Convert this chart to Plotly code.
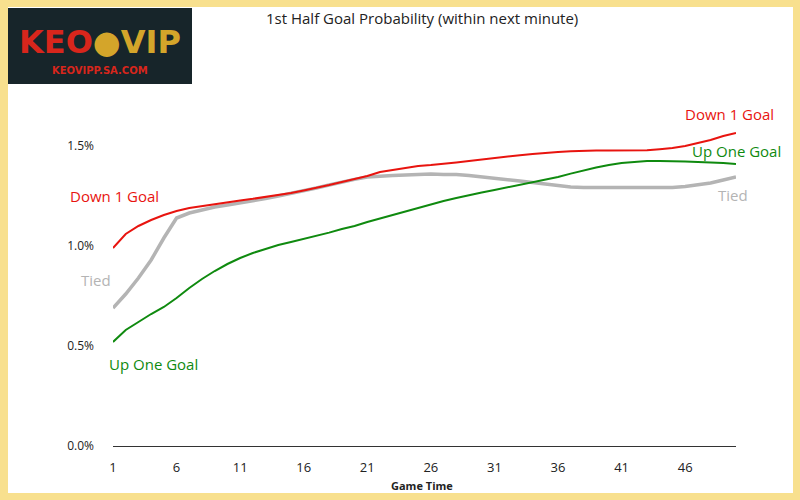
import plotly.graph_objects as go

minutes = list(range(1, 51))
down1 = [0.99,1.06,1.10,1.13,1.155,1.175,1.19,1.20,1.21,1.22,1.228,1.236,1.245,1.255,1.265,1.278,1.29,1.305,1.32,1.335,1.35,1.37,1.38,1.39,1.40,1.405,1.41,1.418,1.425,1.433,1.44,1.447,1.454,1.46,1.466,1.47,1.474,1.477,1.478,1.478,1.478,1.478,1.479,1.484,1.49,1.50,1.515,1.53,1.55,1.565]
tied = [0.69,0.76,0.84,0.93,1.04,1.14,1.165,1.18,1.195,1.205,1.215,1.225,1.237,1.25,1.262,1.275,1.29,1.305,1.32,1.333,1.345,1.35,1.352,1.355,1.358,1.36,1.358,1.358,1.353,1.347,1.34,1.333,1.325,1.318,1.31,1.302,1.295,1.292,1.292,1.292,1.292,1.292,1.292,1.292,1.293,1.298,1.305,1.315,1.33,1.345]
upone = [0.52,0.58,0.62,0.66,0.695,0.74,0.79,0.835,0.875,0.91,0.94,0.965,0.985,1.005,1.02,1.035,1.05,1.067,1.085,1.10,1.12,1.138,1.155,1.172,1.19,1.207,1.225,1.24,1.255,1.268,1.28,1.293,1.305,1.318,1.33,1.345,1.362,1.378,1.392,1.405,1.415,1.42,1.425,1.425,1.425,1.423,1.42,1.418,1.415,1.41]
xticks = [1,6,11,16,21,26,31,36,41,46]
yticks = [0, 0.5, 1.0, 1.5]
ytext = ["0.0%", "0.5%", "1.0%", "1.5%"]

RED, GRAY, GREEN = "#e8140f", "#b4b4b4", "#0f8a0f"
L, R, T, B = 113, 64, 116, 54
PW, PH = 800 - L - R, 500 - T - B
def px(x): return (x - L) / PW
def py(y): return (500 - B - y) / PH

fig = go.Figure()
fig.add_trace(go.Scatter(x=minutes, y=tied, mode="lines", line=dict(color=GRAY, width=3.5)))
fig.add_trace(go.Scatter(x=minutes, y=upone, mode="lines", line=dict(color=GREEN, width=2)))
fig.add_trace(go.Scatter(x=minutes, y=down1, mode="lines", line=dict(color=RED, width=2)))

font = "Open Sans"
def lab(x, y, t, c, anchor="left", size=15, family=font):
    fig.add_annotation(xref="paper", yref="paper", x=px(x), y=py(y), text=t, showarrow=False,
                       xanchor=anchor, yanchor="middle",
                       font=dict(family=family, size=size, color=c))
lab(68, 196, "Down 1 Goal", RED)
lab(79, 280, "Tied", GRAY)
lab(107, 364, "Up One Goal", GREEN)
lab(683, 114, "Down 1 Goal", RED)
lab(690, 151, "Up One Goal", GREEN)
lab(716, 195, "Tied", GRAY)
lab(422, 18, "1st Half Goal Probability (within next minute)", "#222", "center", 15)
lab(422, 485, "<b>Game Time</b>", "#222", "center", 11)

fig.update_layout(
    width=800, height=500, paper_bgcolor="#f8e08e", plot_bgcolor="white",
    margin=dict(l=L, r=R, t=T, b=B, autoexpand=False), showlegend=False,
    xaxis=dict(range=[1, 50], tickvals=xticks, showgrid=False, zeroline=False, automargin=False,
               showline=True, linecolor="#333", linewidth=1, ticks="", ticklabelstandoff=9,
               tickfont=dict(family=font, size=13, color="#222")),
    yaxis=dict(range=[0, 1.65], tickvals=yticks, ticktext=ytext, showgrid=False, zeroline=False,
               automargin=False, tickfont=dict(family=font, size=12, color="#222"), ticklabelstandoff=18),
    shapes=[
        dict(type="rect", xref="paper", yref="paper", x0=px(8), x1=px(793), y0=py(493), y1=py(7),
             fillcolor="white", line=dict(width=0), layer="below"),
        dict(type="rect", xref="paper", yref="paper", x0=px(8), x1=px(192), y0=py(84), y1=py(8),
             fillcolor="#17252a", line=dict(width=0)),
    ],
)
lab(100, 42, "<b>KEO<span style='color:#d4a52a'>●VIP</span></b>", "#d8261c", "center", 32, "DejaVu Sans")
lab(100, 71, "<b>KEOVIPP.SA.COM</b>", "#d8261c", "center", 10, "DejaVu Sans")
fig.write_html("out.html", config={"displayModeBar": False},
               post_script="document.body.style.margin='0';")
